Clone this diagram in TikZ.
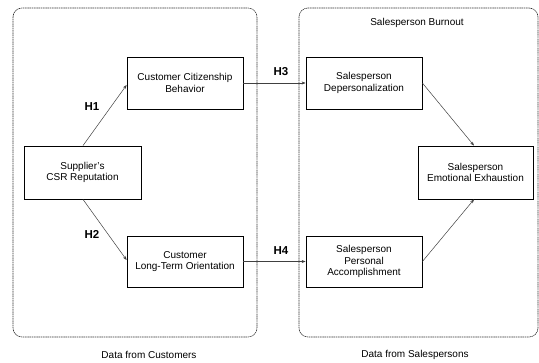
\documentclass[tikz,border=0pt]{standalone}
\usepackage{fontspec}
\setmainfont{Liberation Sans}
\usetikzlibrary{arrows.meta}
\begin{document}
\begin{tikzpicture}[x=1pt,y=-1pt,
  container/.style={draw=black!80, dash pattern=on 1.2pt off 0.6pt, line width=0.6pt, rounded corners=9pt},
  box/.style={draw, line width=0.8pt, align=center, font=\fontsize{10}{11.5}\selectfont, inner sep=0pt},
  arr/.style={-{Stealth[length=4pt,width=3pt]}, line width=0.5pt, draw=black!75},
  hlab/.style={font=\fontsize{11.5}{13}\selectfont\bfseries},
  caption/.style={font=\fontsize{10}{12}\selectfont}]
\useasboundingbox (0,0) rectangle (539,363);
% containers
\draw[container] (13,8) rectangle (257,337);
\draw[container] (299,8) rectangle (538,337);
\node[caption] (burnout) at (417,23) {Salesperson Burnout};
\node[caption] (dcust) at (149,355) {Data from Customers};
\node[caption] (dsales) at (415,355) {Data from Salespersons};
% boxes
\node[box, minimum width=116pt, minimum height=52pt] (ccb) at (185,83) {Customer Citizenship\\Behavior};
\node[box, minimum width=117pt, minimum height=53pt] (csr) at (82.5,172.5) {Supplier's\\CSR Reputation};
\node[box, minimum width=116pt, minimum height=51pt] (clto) at (185,261.5) {Customer\\Long-Term Orientation};
\node[box, minimum width=116pt, minimum height=52pt] (dep) at (364,83) {Salesperson\\Depersonalization};
\node[box, minimum width=116pt, minimum height=51pt] (acc) at (364,261.5) {Salesperson\\Personal\\Accomplishment};
\node[box, minimum width=115pt, minimum height=53pt] (ee) at (475.5,172.5) {Salesperson\\Emotional Exhaustion};
% connectors
\draw[arr] (csr.north -| 83,0) -- (ccb.west |- 0,85);
\draw[arr] (csr.south -| 83,0) -- (clto.west |- 0,260);
\draw[arr] (ccb.east) -- (dep.west);
\draw[arr] (clto.east) -- (acc.west);
\draw[arr] (dep.east) -- (ee.north -| 474,0);
\draw[arr] (acc.east) -- (ee.south -| 474,0);
% labels
\node[hlab] (h1) at (92,107) {H1};
\node[hlab] (h2) at (92,234) {H2};
\node[hlab] (h3) at (281,72) {H3};
\node[hlab] (h4) at (281,251) {H4};
\end{tikzpicture}
\end{document}
